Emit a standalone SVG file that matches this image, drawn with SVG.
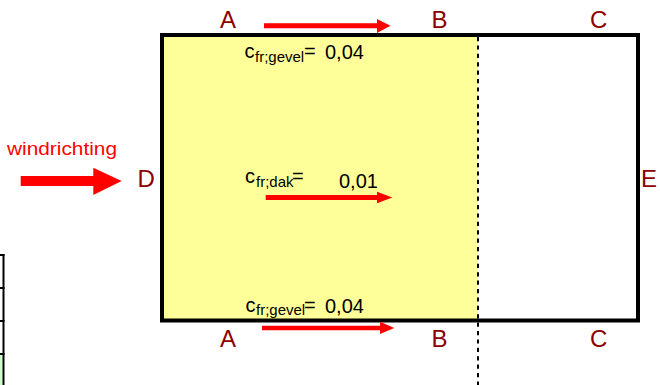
<svg xmlns="http://www.w3.org/2000/svg" width="660" height="385" viewBox="0 0 660 385">
  <style>
    .lbl { font-family: "Liberation Sans", Arial, sans-serif; font-size: 24px; fill: #8B0000; }
    .t { font-family: "Liberation Sans", Arial, sans-serif; font-size: 20px; fill: #000000; }
    .sub { font-family: "Liberation Sans", Arial, sans-serif; font-size: 15px; fill: #000000; }
    .arrow { fill: #FF0000; stroke: none; }
    .edge { fill: none; stroke: #000000; stroke-width: 4; }
  </style>
  <rect x="0" y="0" width="660" height="385" fill="#FFFFFF"/>

  <!-- left panel fragment -->
  <g id="side-panel">
    <rect x="0" y="355" width="2.5" height="30" fill="#CCFFCC"/>
    <line x1="3.5" y1="254" x2="3.5" y2="385" stroke="#000" stroke-width="2"/>
    <line x1="0" y1="255" x2="4.5" y2="255" stroke="#000" stroke-width="2"/>
    <line x1="0" y1="288" x2="4.5" y2="288" stroke="#000" stroke-width="2"/>
    <line x1="0" y1="321" x2="4.5" y2="321" stroke="#000" stroke-width="2"/>
    <line x1="0" y1="354" x2="4.5" y2="354" stroke="#000" stroke-width="2"/>
  </g>

  <!-- building plan -->
  <g id="roof">
    <rect x="162" y="35" width="316" height="285.5" fill="#FFFF99"/>
    <line x1="478" y1="37" x2="478" y2="385" stroke="#000" stroke-width="2" stroke-dasharray="4.2 4.2"/>
    <rect class="edge" x="162" y="35" width="476" height="285.5"/>
  </g>

  <g id="labels">
    <text class="lbl" x="220" y="28">A</text>
    <text class="lbl" x="431.5" y="28">B</text>
    <text class="lbl" x="590" y="28">C</text>
    <text class="lbl" x="137.5" y="187">D</text>
    <text class="lbl" x="641" y="187">E</text>
    <text class="lbl" x="220" y="346.5">A</text>
    <text class="lbl" x="431.5" y="346.5">B</text>
    <text class="lbl" x="590" y="346.5">C</text>
  </g>

  <g id="wind">
    <text x="7" y="155" font-family="Liberation Sans, Arial, sans-serif" font-size="19" fill="#FF0000" textLength="110" lengthAdjust="spacingAndGlyphs">windrichting</text>
  </g>

  <g id="coef-top">
    <text class="t" x="244.5" y="57.5">c</text>
    <text class="sub" x="255" y="61.5">fr;gevel</text>
    <text class="t" x="304" y="57.5">=</text>
    <text class="t" x="325" y="59.3">0,04</text>
  </g>
  <g id="coef-mid">
    <text class="t" x="245" y="183">c</text>
    <text class="sub" x="256" y="187">fr;dak</text>
    <text class="t" x="292" y="183">=</text>
    <text class="t" x="339" y="187.7">0,01</text>
  </g>
  <g id="coef-bottom">
    <text class="t" x="245.5" y="311.7">c</text>
    <text class="sub" x="256" y="315">fr;gevel</text>
    <text class="t" x="304" y="311.7">=</text>
    <text class="t" x="325" y="313.3">0,04</text>
  </g>

  <g id="connectors">
    <path class="arrow" d="M264 23.3 H377 V19 L390.5 25.8 L377 33 V28.3 H264 Z"/>
    <path class="arrow" d="M265.7 195 H377 V191.7 L392.3 197.5 L377 203.3 V200 H265.7 Z"/>
    <path class="arrow" d="M262 325.7 H380 V321.7 L394.3 328 L380 334 V330.3 H262 Z"/>
    <path class="arrow" d="M20.7 176 H93.3 V167.7 L121.7 181 L93.3 195 V186 H20.7 Z"/>
  </g>
</svg>
